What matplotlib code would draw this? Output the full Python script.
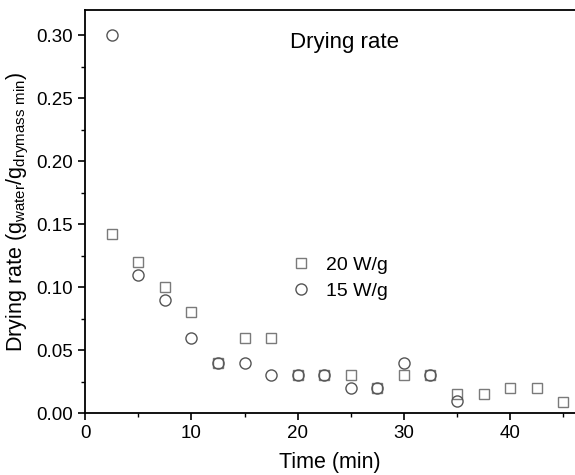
import matplotlib
matplotlib.use("Agg")
import matplotlib.pyplot as plt
from matplotlib.ticker import MultipleLocator

plt.rcParams['font.family'] = ['Liberation Sans', 'DejaVu Sans']

t20 = [2.5, 5, 7.5, 10, 12.5, 15, 17.5, 20, 22.5, 25, 27.5, 30, 32.5, 35, 37.5, 40, 42.5, 45]
r20 = [0.142, 0.12, 0.10, 0.08, 0.04, 0.06, 0.06, 0.03, 0.03, 0.03, 0.02, 0.03, 0.03, 0.015, 0.015, 0.02, 0.02, 0.009]
t15 = [2.5, 5, 7.5, 10, 12.5, 15, 17.5, 20, 22.5, 25, 27.5, 30, 32.5, 35]
r15 = [0.30, 0.11, 0.09, 0.06, 0.04, 0.04, 0.03, 0.03, 0.03, 0.02, 0.02, 0.04, 0.03, 0.01]

fig = plt.figure(figsize=(5.75, 4.75), dpi=100)
ax = fig.add_axes([0.148, 0.130, 0.852, 0.849])

ax.plot(t20, r20, linestyle='none', marker='s', markersize=6.5, markerfacecolor='none',
        markeredgecolor='#7a7a7a', markeredgewidth=1.0, label='20 W/g')
ax.plot(t15, r15, linestyle='none', marker='o', markersize=8, markerfacecolor='none',
        markeredgecolor='#555555', markeredgewidth=1.0, label='15 W/g')

ax.set_xlim(0, 46.1)
ax.set_ylim(0, 0.32)
ax.xaxis.set_major_locator(MultipleLocator(10))
ax.xaxis.set_minor_locator(MultipleLocator(5))
ax.yaxis.set_major_locator(MultipleLocator(0.05))
ax.yaxis.set_minor_locator(MultipleLocator(0.025))
ax.yaxis.set_major_formatter(matplotlib.ticker.FormatStrFormatter('%.2f'))
ax.tick_params(which='major', direction='out', length=5, width=1.2, labelsize=13.5)
ax.tick_params(which='minor', direction='out', length=3, width=1.0)
ax.spines['right'].set_visible(False)
for s in ['left', 'bottom', 'top']:
    ax.spines[s].set_linewidth(1.3)

ax.set_xlabel('Time (min)', fontsize=15.5, labelpad=7)
ax.set_ylabel(r'Drying rate (g$_{\mathregular{water}}$/g$_{\mathregular{drymass\ min}}$)', fontsize=15.5, labelpad=4)

ax.text(19.3, 0.294, 'Drying rate', fontsize=16, va='center', ha='left')

ax.legend(loc='center left', bbox_to_anchor=(0.385, 0.335), frameon=False, fontsize=14,
          handletextpad=0.8, labelspacing=0.45, handlelength=1.0)

fig.savefig('out.png', dpi=100)
